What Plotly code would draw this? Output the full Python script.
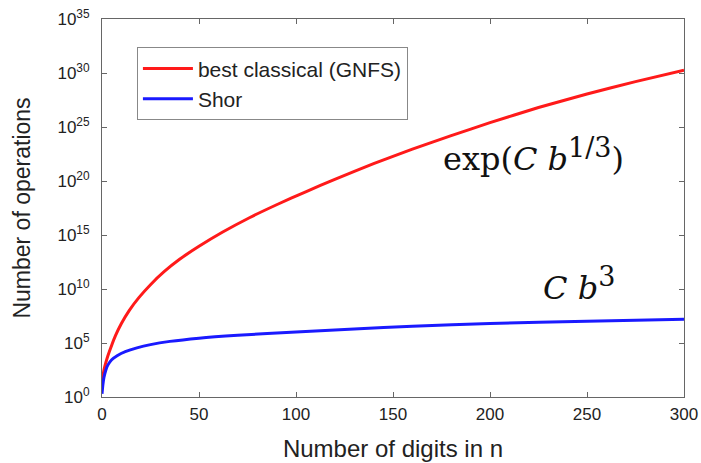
import plotly.graph_objects as go

# Data (exponent = log10 of number of operations)
digits_classical = [0, 1, 2, 3, 5, 7, 10, 14, 19, 25, 32, 40, 50, 62, 76, 90, 105, 120,
                    140, 160, 180, 200, 225, 250, 275, 300]
exp_classical = [1.3, 2.5, 3.2, 3.8, 4.8, 5.7, 6.8, 8.0, 9.2, 10.4, 11.6, 12.75, 13.95, 15.25,
                 16.6, 17.8, 19.0, 20.15, 21.6, 22.95, 24.2, 25.4, 26.8, 28.05, 29.2, 30.25]

digits_shor = [0, 0.5, 1, 2, 3, 5, 8, 12, 18, 25, 35, 50, 70, 100, 130, 160, 200, 250, 300]
exp_shor = [0.3, 1.2, 1.8, 2.5, 2.95, 3.45, 3.85, 4.2, 4.55, 4.85, 5.15, 5.45, 5.72, 6.03,
            6.3, 6.55, 6.8, 7.02, 7.2]

x_ticks = [0, 50, 100, 150, 200, 250, 300]
y_tick_exps = [0, 5, 10, 15, 20, 25, 30, 35]

ops_classical = [10.0 ** e for e in exp_classical]
ops_shor = [10.0 ** e for e in exp_shor]

fig = go.Figure()
fig.add_trace(go.Scatter(x=digits_classical, y=ops_classical, mode="lines",
                         line=dict(color="#ff1a1a", width=3, shape="spline", smoothing=0.6),
                         name="best classical (GNFS)"))
fig.add_trace(go.Scatter(x=digits_shor, y=ops_shor, mode="lines",
                         line=dict(color="#1a1aff", width=3, shape="spline", smoothing=0.6),
                         name="Shor"))

font_family = "Liberation Sans, Arial, sans-serif"
axis_color = "#666666"

fig.update_layout(
    width=701, height=463,
    margin=dict(l=102, r=17, t=19, b=66),
    paper_bgcolor="white", plot_bgcolor="white",
    font=dict(family=font_family, size=17, color="#222222"),
    showlegend=True,
    legend=dict(x=0.06, y=0.925, xanchor="left", yanchor="top",
                bordercolor="#888888", borderwidth=1, bgcolor="white",
                font=dict(size=21, color="#222222"),
                tracegroupgap=0, itemwidth=50),
)

fig.update_xaxes(
    range=[0, 300], tickvals=x_ticks, ticktext=[str(v) for v in x_ticks],
    showline=True, linecolor=axis_color, linewidth=1, mirror="ticks",
    ticks="inside", ticklen=5, tickcolor=axis_color, showgrid=False, zeroline=False,
    tickfont=dict(size=17), ticklabelstandoff=2, automargin=False,
    title=dict(text="Number of digits in n", font=dict(size=24), standoff=16),
)
fig.update_yaxes(
    type="log", range=[0, 35],
    tickvals=[10.0 ** e for e in y_tick_exps],
    ticktext=["10<sup>%d</sup>" % e for e in y_tick_exps],
    showline=True, linecolor=axis_color, linewidth=1, mirror="ticks",
    ticks="inside", ticklen=5, tickcolor=axis_color, showgrid=False, zeroline=False,
    tickfont=dict(size=17), ticklabelstandoff=8, automargin=False,
    title=dict(text="Number of operations", font=dict(size=23), standoff=20),
)

serif = "DejaVu Serif, Liberation Serif, serif"
fig.add_annotation(x=0.742, y=0.64, xref="paper", yref="paper",
                   text="exp(<i>C b</i><sup><span style='font-size:27px'>1/3</span></sup>)",
                   showarrow=False,
                   font=dict(family=serif, size=32, color="#111111"),
                   xanchor="center", yanchor="middle")
fig.add_annotation(x=0.82, y=0.30, xref="paper", yref="paper",
                   text="<i>C b</i><sup><span style='font-size:27px'>3</span></sup>",
                   showarrow=False,
                   font=dict(family=serif, size=32, color="#111111"),
                   xanchor="center", yanchor="middle")

fig.write_html("out.html")
